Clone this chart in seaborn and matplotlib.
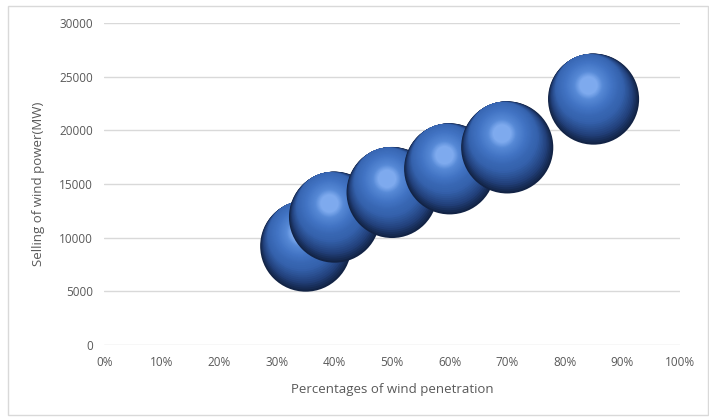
import numpy as np
import matplotlib
matplotlib.use("Agg")
import matplotlib.pyplot as plt
import matplotlib.transforms as mtransforms
from matplotlib.colors import LinearSegmentedColormap
from matplotlib.patches import Rectangle
import seaborn as sns

# data
penetration = [0.35, 0.40, 0.50, 0.60, 0.70, 0.85]
selling_mw = [9200, 11900, 14200, 16400, 18400, 22900]
bubble_size = [4300, 4300, 4300, 4300, 4400, 4300]  # marker area (pt^2)

y_ticks = [0, 5000, 10000, 15000, 20000, 25000, 30000]
x_ticks = [0, 0.1, 0.2, 0.3, 0.4, 0.5, 0.6, 0.7, 0.8, 0.9, 1.0]

sns.set_theme(style="white")
plt.rcParams["font.family"] = ["Open Sans", "DejaVu Sans"]

fig = plt.figure(figsize=(7.09, 4.17), dpi=100)
ax = fig.add_axes([0.147, 0.173, 0.812, 0.772])

# outer chart border
fig.patches.append(Rectangle((0.011, 0.005), 0.987, 0.98, transform=fig.transFigure,
                             fill=False, edgecolor="#d9d9d9", linewidth=1))

# shading for the 3D spheres: dark lower-right rim -> mid blue body -> light highlight
sphere_cmap = LinearSegmentedColormap.from_list(
    "sphere", [(0.0, "#122345"), (0.12, "#22407a"), (0.3, "#3461ac"),
               (0.6, "#4274c4"), (0.85, "#5689d6"), (1.0, "#7eaaee")])

light_dir = np.array([-0.35, 0.94])  # highlight sits up and a bit left
n_layers = 36
for i, (x, y, s) in enumerate(zip(penetration, selling_mw, bubble_size)):
    R = np.sqrt(s) / 2
    for k in range(n_layers):
        t = k / (n_layers - 1)
        r = R * (1 - 0.8 * t)
        # keep the layers touching the upper-left edge, then shrink round the highlight
        d = min(R - r, 0.32 * R)
        dx, dy = light_dir * d / 72
        off = mtransforms.ScaledTranslation(dx, dy, fig.dpi_scale_trans)
        sns.scatterplot(x=[x], y=[y], s=(2 * r) ** 2,
                        color=sphere_cmap(t), edgecolor="none",
                        linewidth=0, ax=ax, transform=ax.transData + off,
                        zorder=3 + i * n_layers + k, legend=False)

ax.set_xlim(0, 1.0)
ax.set_ylim(0, 30000)
ax.set_xticks(x_ticks)
ax.set_xticklabels([f"{int(round(v * 100))}%" for v in x_ticks])
ax.set_yticks(y_ticks)
ax.set_yticklabels([str(v) for v in y_ticks])
ax.grid(axis="y", color="#d9d9d9", linewidth=1)
ax.set_axisbelow(True)
for sp in ax.spines.values():
    sp.set_visible(False)
ax.tick_params(axis="both", colors="#595959", labelsize=8.5, length=0, pad=8)
ax.set_xlabel("Percentages of wind penetration", color="#595959", fontsize=9.5, labelpad=10)
ax.set_ylabel("Selling of wind power(MW)", color="#595959", fontsize=9.5, labelpad=10)

fig.savefig("out.png", dpi=100)
